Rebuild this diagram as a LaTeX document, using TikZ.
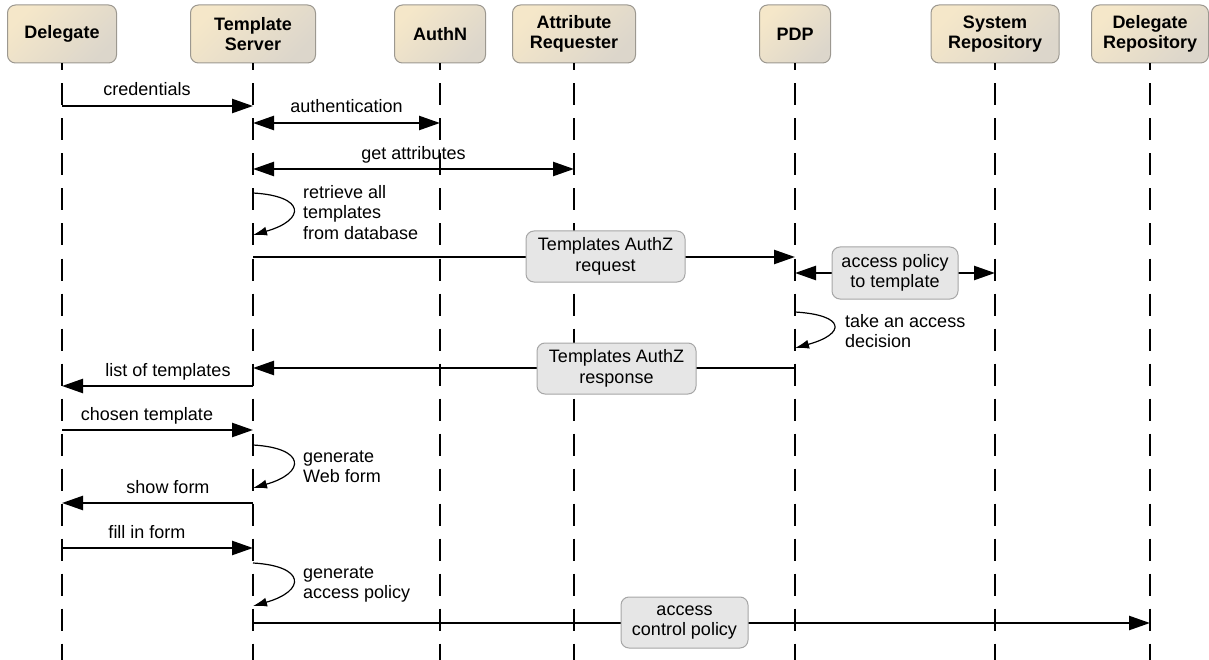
\documentclass[tikz,border=0pt]{standalone}
\usepackage{fontspec}
\setmainfont{Liberation Sans}
\usetikzlibrary{arrows.meta,calc}
\definecolor{hdtop}{HTML}{F5E7C9}
\definecolor{hdbot}{HTML}{DCD6CB}
\definecolor{hdline}{HTML}{9C9890}
\definecolor{boxfill}{HTML}{E6E6E6}
\definecolor{boxline}{HTML}{A6A6A6}

\begin{document}
\begin{tikzpicture}[x=1pt,y=-1pt,
  font=\fontsize{18}{20.5}\selectfont,
  actor/.style={draw=hdline, line width=1pt, rounded corners=8pt,
    top color=hdtop, bottom color=hdbot, shading angle=45,
    minimum height=58pt, inner sep=0pt, align=center,
    font=\fontsize{18}{20.5}\selectfont\bfseries},
  lifeline/.style={line width=1.3pt, dash pattern=on 22pt off 13pt, dash phase=15pt},
  msg/.style={line width=2.4pt, -{Triangle[length=21pt,width=14pt]}},
  dmsg/.style={line width=2.4pt, {Triangle[length=21pt,width=14pt]}-{Triangle[length=21pt,width=14pt]}},
  selfmsg/.style={line width=1.2pt, -{Latex[length=14pt,width=9pt]}},
  lbl/.style={anchor=base, inner sep=0pt},
  looplbl/.style={anchor=north west, inner sep=0pt, align=left},
  note/.style={draw=boxline, line width=1pt, fill=boxfill, rounded corners=8pt,
    inner sep=0pt, align=center, minimum height=51pt}
]
\useasboundingbox (0,0) rectangle (1209,660);

% participants
\node[actor, minimum width=109pt] (dl)  at (62,34)   {Delegate};
\node[actor, minimum width=125pt] (ts)  at (253,34)  {Template\\Server};
\node[actor, minimum width=91pt]  (an)  at (440,34)  {AuthN};
\node[actor, minimum width=123pt] (ar)  at (574,34)  {Attribute\\Requester};
\node[actor, minimum width=71pt]  (pdp) at (795,34)  {PDP};
\node[actor, minimum width=128pt] (sr)  at (995,34)  {System\\Repository};
\node[actor, minimum width=117pt] (dr)  at (1150,34) {Delegate\\Repository};

% lifelines
\coordinate (bot) at (0,660);
\foreach \p in {dl,ts,an,ar,pdp,sr,dr}
  \draw[lifeline] (\p.south) -- (\p.south |- bot);

% anchor points of the messages on the lifelines
\coordinate (m1s) at (dl |- 0,106);   \coordinate (m1e) at (ts |- 0,106);
\coordinate (m2s) at (ts |- 0,123);   \coordinate (m2e) at (an |- 0,123);
\coordinate (m3s) at (ts |- 0,169);   \coordinate (m3e) at (ar |- 0,169);
\coordinate (l1s) at (ts |- 0,193);   \coordinate (l1e) at (ts |- 0,235);
\coordinate (m4s) at (ts |- 0,257);   \coordinate (m4e) at (pdp |- 0,257);
\coordinate (m5s) at (pdp |- 0,273);  \coordinate (m5e) at (sr |- 0,273);
\coordinate (l2s) at (pdp |- 0,312);  \coordinate (l2e) at (pdp |- 0,348);
\coordinate (m6s) at (pdp |- 0,368);  \coordinate (m6e) at (ts |- 0,368);
\coordinate (m7s) at (ts |- 0,386);   \coordinate (m7e) at (dl |- 0,386);
\coordinate (m8s) at (dl |- 0,430);   \coordinate (m8e) at (ts |- 0,430);
\coordinate (l3s) at (ts |- 0,445);   \coordinate (l3e) at (ts |- 0,488);
\coordinate (m9s) at (ts |- 0,503);   \coordinate (m9e) at (dl |- 0,503);
\coordinate (m10s) at (dl |- 0,548);  \coordinate (m10e) at (ts |- 0,548);
\coordinate (l4s) at (ts |- 0,563);   \coordinate (l4e) at (ts |- 0,606);
\coordinate (m11s) at (ts |- 0,623);  \coordinate (m11e) at (dr |- 0,623);

% messages
\draw[msg]  (m1s) -- (m1e);
\node[lbl] (t1) at (147,96) {credentials};
\draw[dmsg] (m2s) -- (m2e);
\node[lbl] (t2) at (346.5,113) {authentication};
\draw[dmsg] (m3s) -- (m3e);
\node[lbl] (t3) at (413.5,160) {get attributes};

\draw[selfmsg] (l1s) .. controls ($(l1s)+(53,3)$) and ($(l1e)+(53,-15)$) .. (l1e);
\node[looplbl] (t4) at (303,183.65) {\strut retrieve all\\templates\\from database};

\draw[msg]  (m4s) -- (m4e);
\draw[dmsg] (m5s) -- (m5e);

\draw[selfmsg] (l2s) .. controls ($(l2s)+(51,3)$) and ($(l2e)+(51,-14)$) .. (l2e);
\node[looplbl] (t5) at (845,312.65) {\strut take an access\\decision};

\draw[msg] (m6s) -- (m6e);
\draw[msg] (m7s) -- (m7e);
\node[lbl] (t6) at (168,376) {list of templates};

\draw[msg] (m8s) -- (m8e);
\node[lbl] (t7) at (147,420) {chosen template};

\draw[selfmsg] (l3s) .. controls ($(l3s)+(53,3)$) and ($(l3e)+(53,-15)$) .. (l3e);
\node[looplbl] (t8) at (303,447.65) {\strut generate\\Web form};

\draw[msg] (m9s) -- (m9e);
\node[lbl] (t9) at (168,493) {show form};

\draw[msg] (m10s) -- (m10e);
\node[lbl] (t10) at (147,538) {fill in form};

\draw[selfmsg] (l4s) .. controls ($(l4s)+(53,3)$) and ($(l4e)+(53,-15)$) .. (l4e);
\node[looplbl] (t11) at (303,563.65) {\strut generate\\access policy};

\draw[msg] (m11s) -- (m11e);

% message boxes sitting on the long arrows
\node[note, minimum width=159pt] (n1) at (605.5,256.5) {Templates AuthZ\\request};
\node[note, minimum width=126pt, minimum height=52pt] (n2) at (895,273) {access policy\\to template};
\node[note, minimum width=159pt] (n3) at (616.5,368.5) {Templates AuthZ\\response};
\node[note, minimum width=127pt] (n4) at (684.5,622.5) {access\\control policy};
\end{tikzpicture}
\end{document}
